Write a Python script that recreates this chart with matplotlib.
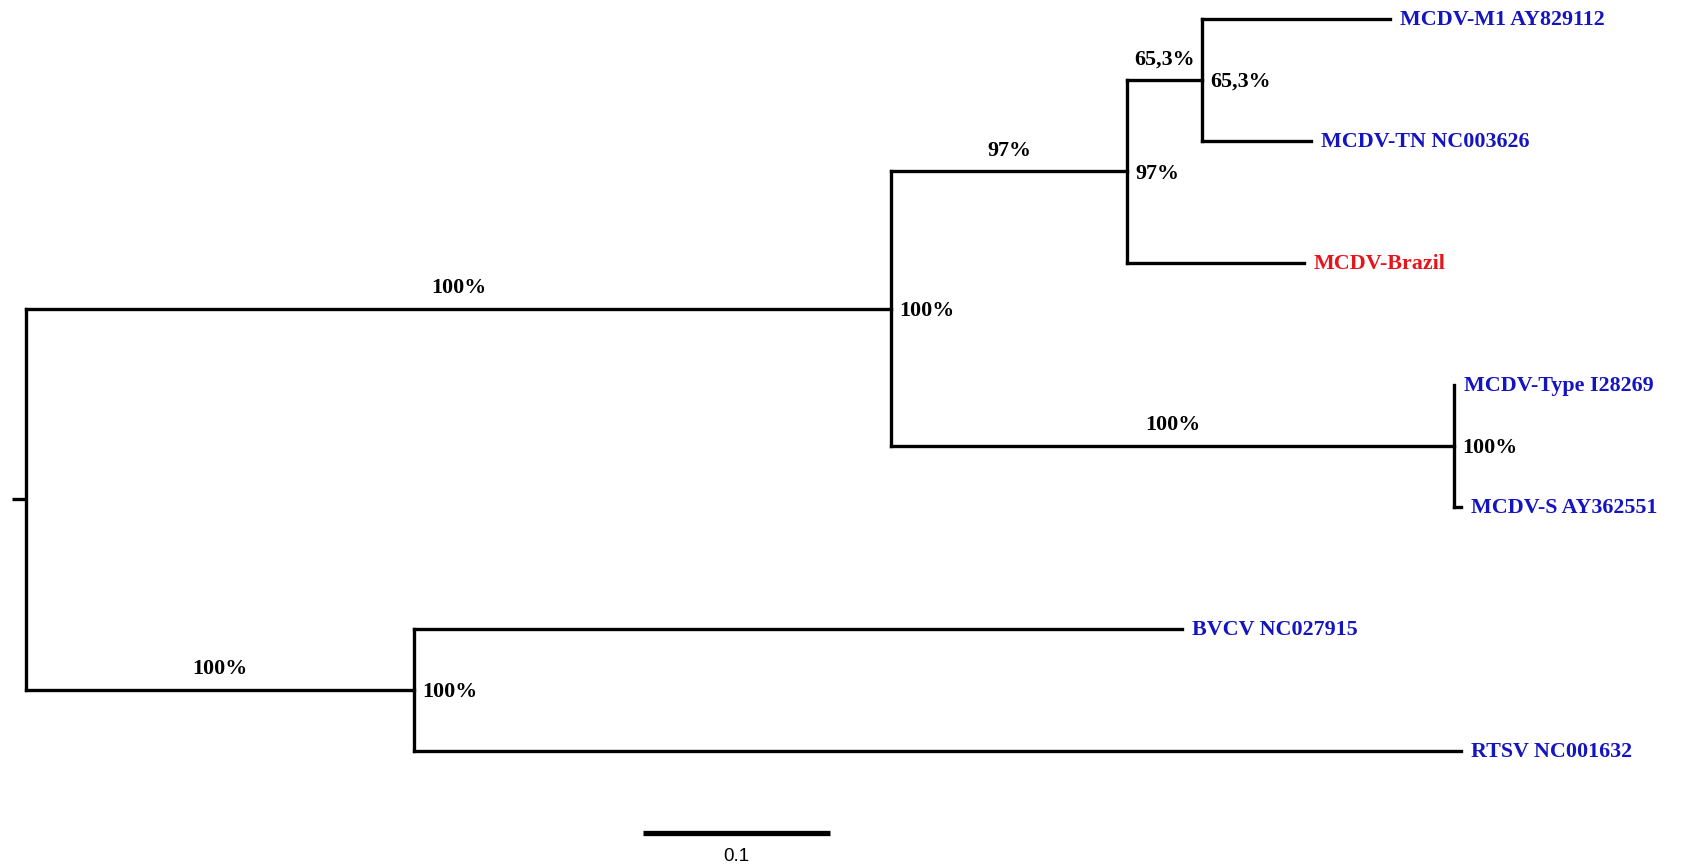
"""Phylogenetic tree of MCDV isolates (bootstrap support shown on branches and nodes)."""

import matplotlib

matplotlib.use("Agg")
import matplotlib.pyplot as plt

# --- tree data -------------------------------------------------------------
node_names = [
    "root", "n_lower", "n_upper", "n_97", "n_65", "n_type",
    "MCDV-M1 AY829112", "MCDV-TN NC003626", "MCDV-Brazil",
    "MCDV-Type I28269", "MCDV-S AY362551", "BVCV NC027915", "RTSV NC001632",
]
parents = [
    None, "root", "root", "n_upper", "n_97", "n_upper",
    "n_65", "n_65", "n_97", "n_type", "n_type", "n_lower", "n_lower",
]
branch_lengths = [
    0.0075, 0.2075, 0.4626, 0.1262, 0.0401, 0.3011,
    0.1005, 0.0583, 0.0947, 0.0, 0.0037, 0.4107, 0.5599,
]
bootstrap = {"n_lower": 100, "n_upper": 100, "n_97": 97, "n_65": 65.3, "n_type": 100}

# top-to-bottom order of the tips
leaf_order = [
    "MCDV-M1 AY829112", "MCDV-TN NC003626", "MCDV-Brazil",
    "MCDV-Type I28269", "MCDV-S AY362551", "BVCV NC027915", "RTSV NC001632",
]
highlight = {"MCDV-Brazil"}
scale_len = 0.1

BLUE = "#1414c0"
RED = "#e8141c"
SERIF = "Liberation Serif"
FS = 15.8
LW = 2.4

children = {n: [] for n in node_names}
for n, p in zip(node_names, parents):
    if p is not None:
        children[p].append(n)
blen = dict(zip(node_names, branch_lengths))

# x = cumulative distance from root, y = tip row (internal: mean of children)
xpos, ypos = {"root": 0.0}, {}


def place_x(node):
    for c in children[node]:
        xpos[c] = xpos[node] + blen[c]
        place_x(c)


def place_y(node):
    if not children[node]:
        ypos[node] = leaf_order.index(node)
    else:
        ypos[node] = sum(place_y(c) for c in children[node]) / len(children[node])
    return ypos[node]


place_x("root")
place_y("root")

# pixel mapping: root at 26 px, 0.1 units = 187 px, tips 122 px apart from y=19
W, H = 1690, 867
px_per_unit = 1870.0
fig = plt.figure(figsize=(W / 100, H / 100), dpi=100)
ax = fig.add_axes([0, 0, 1, 1])
ax.set_xlim(-26 / px_per_unit, (W - 26) / px_per_unit)
ax.set_ylim((H - 19) / 122, -19 / 122)
ax.axis("off")

line_kw = dict(color="black", lw=LW, solid_capstyle="projecting")

# root stub
ax.plot([-blen["root"], 0], [ypos["root"]] * 2, color="black", lw=LW, solid_capstyle="butt")

for node in node_names:
    kids = children[node]
    if kids:
        ys = [ypos[c] for c in kids]
        ax.plot([xpos[node]] * 2, [min(ys), max(ys)], **line_kw)
    p = parents[node_names.index(node)]
    if p is not None and blen[node] > 0:
        ax.plot([xpos[p], xpos[node]], [ypos[node]] * 2, **line_kw)

    if not kids:
        ax.annotate(
            node, (xpos[node], ypos[node]), xytext=(7, -1), textcoords="offset points",
            ha="left", va="center", family=SERIF, fontweight="bold", fontsize=FS,
            color=RED if node in highlight else BLUE,
        )
    elif node in bootstrap:
        val = bootstrap[node]
        txt = (f"{val:g}".replace(".", ",")) + "%"
        # on the branch, centred above it
        mid = (xpos[p] + xpos[node]) / 2
        ax.annotate(
            txt, (mid, ypos[node]), xytext=(0, 15), textcoords="offset points",
            ha="center", va="center", family=SERIF, fontweight="bold", fontsize=FS,
        )
        # at the node, to its right
        ax.annotate(
            txt, (xpos[node], ypos[node]), xytext=(6, -1.5), textcoords="offset points",
            ha="left", va="center", family=SERIF, fontweight="bold", fontsize=FS,
        )

# scale bar
sb_x0 = (643 - 26) / px_per_unit
sb_y = (833 - 19) / 122
ax.plot([sb_x0, sb_x0 + scale_len], [sb_y, sb_y], color="black", lw=3.8, solid_capstyle="butt")
ax.annotate(
    f"{scale_len:g}", (sb_x0 + scale_len / 2, sb_y), xytext=(0, -17), textcoords="offset points",
    ha="center", va="center", family="Liberation Sans", fontsize=13.5,
)

fig.savefig("out.png", dpi=100)
